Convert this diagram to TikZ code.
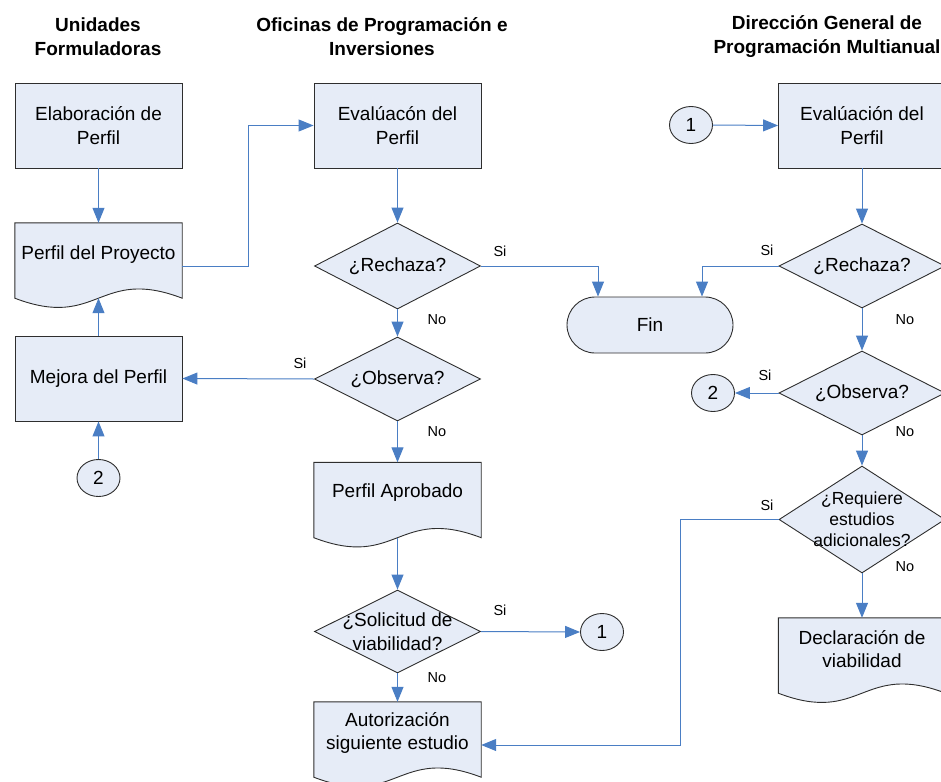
\documentclass[tikz,border=0pt]{standalone}
\usepackage{fontspec}
\setmainfont{Liberation Sans}
\usetikzlibrary{shapes.geometric,arrows.meta,calc}
\definecolor{fillb}{HTML}{E6ECF7}
\definecolor{lineb}{HTML}{4A7EC4}
\definecolor{bord}{HTML}{2E2E2E}
\tikzset{
 base/.style={draw=bord, fill=fillb, line width=0.9pt, inner sep=0pt, align=center},
 proc/.style={base, rectangle, minimum width=167pt, minimum height=85pt},
 docbox/.style={rectangle, inner sep=0pt, minimum width=167pt, minimum height=75pt},
 docline/.style={draw=bord, fill=fillb, line width=0.9pt},
 dia/.style={base, diamond, minimum width=166pt, minimum height=86pt},
 conn/.style={base, ellipse, minimum width=43pt, minimum height=37pt},
 term/.style={base, rectangle, rounded corners=28pt, minimum width=166pt, minimum height=56pt},
 txt/.style={inner sep=0pt, align=center},
 lbl/.style={inner sep=0pt, font=\fontsize{14.5}{16}\selectfont},
 hdr/.style={inner sep=0pt, align=center, font=\bfseries\fontsize{19}{24.5}\selectfont},
 arr/.style={draw=lineb, line width=1pt, -{Triangle[length=15pt,width=12pt]}},
}
\newcommand\docdraw[1]{\path[docline] (#1.north west) -- (#1.north east) -- (#1.south east) .. controls ($(#1.south)+(0,-32)$) and ($(#1.south)+(0,32)$) .. (#1.south west) -- cycle;}
\begin{document}
\begin{tikzpicture}[x=1pt,y=-1pt,font=\fontsize{19}{23.5}\selectfont]
\useasboundingbox (0,0) rectangle (941,781);
% headers
\node[hdr] (h1) at (98,36.5) {Unidades\\Formuladoras};
\node[hdr] (h2) at (382,36.5) {Oficinas de Programación e\\Inversiones};
\node[hdr] (h3) at (827,36.5) {Dirección General de\\Programación Multianual};
% column 1
\node[proc] (elab) at (98.5,125.5) {Elaboración de\\Perfil};
\node[docbox] (pp) at (98.5,260.5) {};
\docdraw{pp}
\node[txt] (ppt) at (98.5,255) {Perfil del Proyecto};
\node[proc] (mej) at (98.5,378.5) {Mejora del Perfil};
\node[conn] (c2a) at (98.5,478) {2};
% column 2
\node[proc] (ev1) at (397.5,125.5) {Evalúacón del\\Perfil};
\node[dia] (rech1) at (397.5,266) {};
\node[txt] (rech1t) at (rech1) {¿Rechaza?};
\node[dia, minimum height=84pt] (obs1) at (397.5,379) {};
\node[txt] (obs1t) at (obs1) {¿Observa?};
\node[docbox] (pa) at (397.5,500) {};
\docdraw{pa}
\node[txt] (pat) at (397.5,493) {Perfil Aprobado};
\node[dia, minimum height=83pt] (sol) at (397.5,631.5) {};
\node[txt] (solt) at (sol) {¿Solicitud de\\viabilidad?};
\node[conn] (c1a) at (602,632) {1};
\node[docbox] (aut) at (397.5,739.5) {};
\docdraw{aut}
\node[txt] (autt) at (397.5,733) {Autorización\\siguiente estudio};
% Fin
\node[term] (fin) at (650,325) {Fin};
% column 3
\node[conn] (c1b) at (691,125) {1};
\node[proc] (ev2) at (862,125.5) {Evalúación del\\Perfil};
\node[dia, minimum height=84pt] (rech2) at (862,266) {};
\node[txt] (rech2t) at (rech2) {¿Rechaza?};
\node[dia, minimum height=84pt] (obs2) at (862,393) {};
\node[txt] (obs2t) at (obs2) {¿Observa?};
\node[conn] (c2b) at (713,393) {2};
\node[dia, minimum height=107pt] (req) at (862,519.5) {};
\node[txt, font=\fontsize{17.5}{21}\selectfont] (reqt) at (req) {¿Requiere\\estudios\\adicionales?};
\node[docbox] (dv) at (862,655.5) {};
\docdraw{dv}
\node[txt] (dvt) at (862,649) {Declaración de\\viabilidad};
% connectors
\draw[arr] (elab.south) -- (pp.north);
\draw[arr] ($(pp.east)+(0,5.5)$) -- ++(66,0) |- (ev1.west);
\draw[arr] (mej.north) -- (pp.south);
\draw[arr] (c2a.north) -- (mej.south);
\draw[arr] (obs1.west) -- (mej.east);
\draw[arr] (ev1.south) -- (rech1.north);
\draw[arr] (rech1.east) -| ($(fin.north)+(-52,0)$);
\draw[arr] (rech1.south) -- (obs1.north);
\draw[arr] (obs1.south) -- (pa.north);
\draw[arr] (pa.south) -- (sol.north);
\draw[arr] (sol.east) -- (c1a.west);
\draw[arr] (sol.south) -- (aut.north);
\draw[arr] (c1b.east) -- (ev2.west);
\draw[arr] (ev2.south) -- (rech2.north);
\draw[arr] (rech2.west) -| ($(fin.north)+(52,0)$);
\draw[arr] (rech2.south) -- (obs2.north);
\draw[arr] (obs2.west) -- (c2b.east);
\draw[arr] (obs2.south) -- (req.north);
\draw[arr] (req.south) -- (dv.north);
\draw[arr] (req.west) -- ++(-98,0) |- ($(aut.east)+(0,5.5)$);
% labels
\node[lbl] (l1) at (500,251) {Si};
\node[lbl] (l2) at (437,320) {No};
\node[lbl] (l3) at (300,363) {Si};
\node[lbl] (l4) at (437,432) {No};
\node[lbl] (l5) at (500,610) {Si};
\node[lbl] (l6) at (437,678) {No};
\node[lbl] (l7) at (767,250) {Si};
\node[lbl] (l8) at (905,320) {No};
\node[lbl] (l9) at (765,375) {Si};
\node[lbl] (l10) at (905,432) {No};
\node[lbl] (l11) at (767,505) {Si};
\node[lbl] (l12) at (905,567) {No};
\end{tikzpicture}
\end{document}
